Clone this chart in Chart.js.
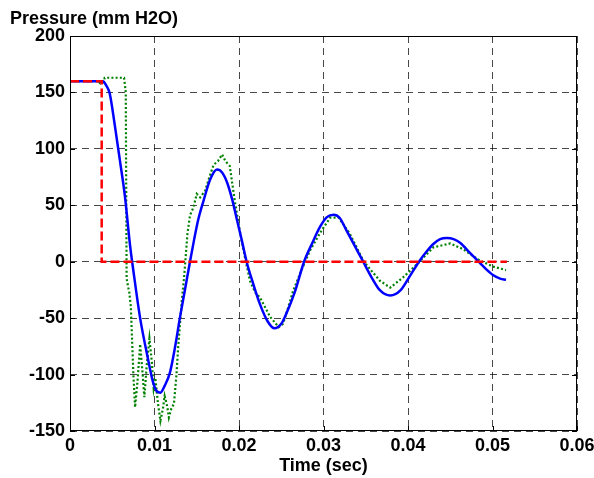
<!DOCTYPE html>
<html>
<head>
<meta charset="utf-8">
<script src="https://cdn.jsdelivr.net/npm/chart.js@4.4.1/dist/chart.umd.min.js"></script>
<style>
  html, body { margin: 0; padding: 0; background: #fff; }
  #wrap { width: 594px; height: 478px; }
</style>
</head>
<body>
<div id="wrap"><canvas id="chart" width="594" height="478"></canvas></div>
<script>
// time axis ticks
const xTickValues = [0, 0.01, 0.02, 0.03, 0.04, 0.05, 0.06];
const xTickLabels = ["0", "0.01", "0.02", "0.03", "0.04", "0.05", "0.06"];
const yTickValues = [-150, -100, -50, 0, 50, 100, 150, 200];

// step input (red dashed)
const inputTime = [0, 0.00375, 0.00375, 0.0517];
const inputPressure = [160, 160, 0, 0];

// model response (blue solid)
const modelTime = [0, 0.0039, 0.0043, 0.0047, 0.0053, 0.0059, 0.0065, 0.0071, 0.0075, 0.0083,
  0.0092, 0.0098, 0.0103, 0.0107, 0.0112, 0.0118, 0.0124, 0.0130, 0.0136, 0.0142,
  0.0147, 0.0152, 0.0158, 0.0166, 0.0174, 0.0180, 0.0186, 0.0192, 0.0197, 0.0203,
  0.0209, 0.0217, 0.0225, 0.0234, 0.0242, 0.0250, 0.0256, 0.0266, 0.0277, 0.0287,
  0.0296, 0.0304, 0.0312, 0.0319, 0.0327, 0.0337, 0.0347, 0.0357, 0.0367, 0.0379,
  0.0391, 0.0402, 0.0413, 0.0422, 0.0430, 0.0438, 0.0446, 0.0454, 0.0462, 0.0473,
  0.0485, 0.0493, 0.0501, 0.0509, 0.0516];
const modelPressure = [160, 160, 156, 149, 121, 90, 58, 15, -8, -50,
  -85, -106, -115, -116, -110, -99, -77, -50, -25, 0,
  20, 38, 54, 73, 81.6, 79, 70, 55, 39, 20,
  0, -20, -38, -53, -59, -55, -46, -27, 0, 17,
  31, 39.5, 41.7, 39, 28, 14, 0, -14, -25.5, -30,
  -25.5, -13, 0, 9, 15.7, 20, 21, 20, 16.5, 8,
  -1, -7, -12, -15, -16];

// measured pressure (green dotted)
const measuredTime = [0, 0.0033, 0.0036, 0.0040, 0.0041, 0.0064, 0.0066, 0.0067, 0.0069, 0.0070,
  0.0072, 0.0075, 0.0077, 0.0080, 0.0083, 0.0086, 0.0088, 0.0091, 0.0094, 0.0097,
  0.0099, 0.0101, 0.0104, 0.0107, 0.0110, 0.0112, 0.0115, 0.0117, 0.0120, 0.0123,
  0.0126, 0.0128, 0.0132, 0.0135, 0.0139, 0.0142, 0.0146, 0.0150, 0.0154, 0.0160,
  0.0165, 0.0170, 0.0175, 0.0180, 0.0184, 0.0189, 0.0195, 0.0201, 0.0207, 0.0213,
  0.0219, 0.0225, 0.0237, 0.0247, 0.0252, 0.0256, 0.0264, 0.0272, 0.0284, 0.0298,
  0.0308, 0.0318, 0.0331, 0.0347, 0.0355, 0.0367, 0.0379, 0.0394, 0.0413, 0.0430,
  0.0450, 0.0465, 0.0485, 0.0501, 0.0516];
const measuredPressure = [160, 160, 158, 159, 163, 163, 150, -15, -23, -26,
  -40, -100, -129, -105, -73, -100, -120, -90, -68, -90,
  -112, -103, -125, -141, -130, -119, -128, -138, -130, -126,
  -100, -76, -37, -14, 25, 41, 48, 60, 57, 63,
  75, 86, 89, 95, 89, 85, 54, 27, 4, -17,
  -27, -32, -49, -58, -55, -46, -26, -11, 10, 28,
  39, 39, 25, 1, -6.5, -17, -23, -14, -0.5, 12.7,
  16.2, 11.2, 1, -4.4, -7.4];

function toPoints(xs, ys) {
  return xs.map((x, i) => ({ x: x, y: ys[i] }));
}

const FONT = "'Liberation Sans', Arial, Helvetica, sans-serif";

// box round the plot, with inward tick marks on the left, right and bottom
const framePlugin = {
  id: "frame",
  afterDraw(chart) {
    const { ctx, chartArea } = chart;
    const xs = chart.scales.x;
    const ys = chart.scales.y;
    const len = 5;
    ctx.save();
    ctx.strokeStyle = "#000";
    ctx.lineWidth = 1;
    ctx.setLineDash([]);
    ctx.strokeRect(chartArea.left + 0.5, chartArea.top + 0.5,
      chartArea.right - chartArea.left - 1, chartArea.bottom - chartArea.top - 1);
    ctx.beginPath();
    xTickValues.forEach((v) => {
      const px = Math.round(xs.getPixelForValue(v)) + 0.5;
      ctx.moveTo(px, chartArea.bottom);
      ctx.lineTo(px, chartArea.bottom - len);
    });
    yTickValues.forEach((v) => {
      const py = Math.round(ys.getPixelForValue(v)) + 0.5;
      ctx.moveTo(chartArea.left, py);
      ctx.lineTo(chartArea.left + len, py);
      ctx.moveTo(chartArea.right, py);
      ctx.lineTo(chartArea.right - len, py);
    });
    ctx.stroke();
    ctx.restore();
  }
};

const chart = new Chart(document.getElementById("chart").getContext("2d"), {
  type: "scatter",
  data: {
    datasets: [
      {
        label: "Input",
        data: toPoints(inputTime, inputPressure),
        showLine: true,
        borderColor: "#ff0000",
        borderWidth: 2.5,
        borderDash: [9, 4],
        pointRadius: 0,
        tension: 0
      },
      {
        label: "Model",
        data: toPoints(modelTime, modelPressure),
        showLine: true,
        borderColor: "#0000ff",
        borderWidth: 2.5,
        pointRadius: 0,
        cubicInterpolationMode: "monotone"
      },
      {
        label: "Measured",
        data: toPoints(measuredTime, measuredPressure),
        showLine: true,
        borderColor: "#008000",
        borderWidth: 2.2,
        borderDash: [2, 2.2],
        pointRadius: 0,
        tension: 0
      }
    ]
  },
  options: {
    responsive: false,
    animation: false,
    events: [],
    layout: { padding: { left: 10, right: 17, top: 0, bottom: 0 } },
    plugins: {
      legend: { display: false },
      tooltip: { enabled: false },
      title: {
        display: true,
        text: "Pressure (mm H2O)",
        align: "start",
        color: "#000",
        font: { family: FONT, size: 18, weight: "bold" },
        padding: { top: 8, bottom: 6.4 }
      }
    },
    scales: {
      x: {
        type: "linear",
        min: 0,
        max: 0.06,
        afterBuildTicks: (scale) => {
          scale.ticks = xTickValues.map((v) => ({ value: v }));
        },
        afterFit: (scale) => {
          scale.height = 47;
          scale.paddingLeft = 0;
          scale.paddingRight = 0;
        },
        ticks: {
          color: "#000",
          padding: 4,
          maxRotation: 0,
          autoSkip: false,
          font: { family: FONT, size: 18, weight: "bold" },
          callback: (v, i) => xTickLabels[i]
        },
        grid: {
          color: "rgba(0,0,0,0.72)",
          lineWidth: 1,
          drawTicks: false
        },
        border: { display: false, dash: [7, 5] },
        title: {
          display: true,
          text: "Time (sec)",
          color: "#000",
          font: { family: FONT, size: 18, weight: "bold" },
          padding: { top: 0, bottom: 1 }
        }
      },
      y: {
        type: "linear",
        min: -150,
        max: 200,
        afterBuildTicks: (scale) => {
          scale.ticks = yTickValues.map((v) => ({ value: v }));
        },
        afterFit: (scale) => {
          scale.width = 60;
          scale.paddingTop = 0;
          scale.paddingBottom = 0;
        },
        ticks: {
          color: "#000",
          padding: 5,
          font: { family: FONT, size: 18, weight: "bold" },
          callback: (v) => String(v)
        },
        grid: {
          color: "rgba(0,0,0,0.72)",
          lineWidth: 1,
          drawTicks: false
        },
        border: { display: false, dash: [7, 5] }
      }
    }
  },
  plugins: [framePlugin]
});
</script>
</body>
</html>
